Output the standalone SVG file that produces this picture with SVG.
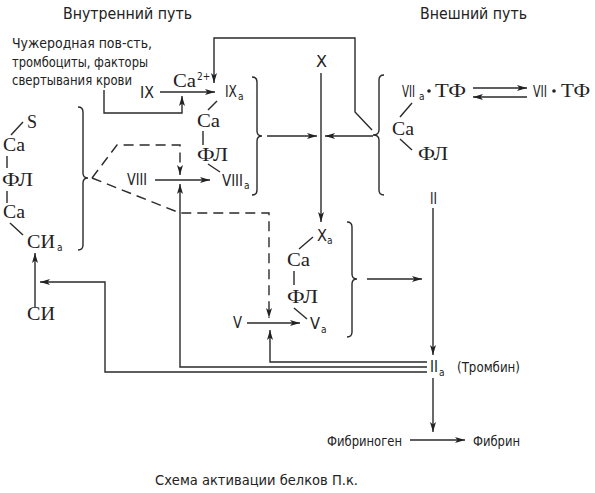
<svg xmlns="http://www.w3.org/2000/svg" width="595" height="493" viewBox="0 0 595 493">
<style>
.n{font-family:"Liberation Sans Narrow","DejaVu Sans Condensed","Liberation Sans",sans-serif;fill:#222;font-size:15px}
.t{font-size:14px}
.sub{font-family:"Liberation Sans Narrow","DejaVu Sans Condensed","Liberation Sans",sans-serif;fill:#222;font-size:10px}
.s{font-family:"Liberation Serif","DejaVu Serif",serif;fill:#222;font-size:18px}
.ln{stroke:#2a2a2a;stroke-width:1.4;fill:none}
.ar{stroke:#2a2a2a;stroke-width:1.4;fill:none;marker-end:url(#ah)}
.da{stroke-dasharray:10 6}
</style>
<defs>
<marker id="ah" viewBox="0 0 10 6" refX="10" refY="3" markerWidth="10" markerHeight="6" markerUnits="userSpaceOnUse" orient="auto"><path d="M0,0 L10,3 L0,6 L2.5,3 z" fill="#222"/></marker>
</defs>
<rect width="595" height="493" fill="#fff"/>

<g id="connectors">
<path class="ar" d="M160 92 H215"/>
<path class="ar" d="M104 90 V113 H182 V96"/>
<path class="ar" d="M372 130 L355 112 V38 H214 V83"/>
<path class="ar" d="M267 136 H317"/>
<path class="ar" d="M373 136 H325"/>
<path class="ar" d="M321 73 V222"/>
<path class="ar" d="M155 180 H210"/>
<path class="ar da" d="M92 178 L117 145 H180 V175"/>
<path class="ar da" d="M92 178 L180 213 H269 V318"/>
<path class="ar" d="M247 323 H300"/>
<path class="ar" d="M427 362 H270 V330"/>
<path class="ar" d="M427 367 H180 V184"/>
<path class="ar" d="M427 372 H105 V282 H40"/>
<path class="ar" d="M35 307 V253"/>
<path class="ar" d="M367 279 H422"/>
<path class="ar" d="M433 208 V355"/>
<path class="ar" d="M433 378 V432"/>
<path class="ar" d="M410 440 H465"/>
<path class="ar" d="M473 88 H527"/>
<path class="ar" d="M527 97 H473"/>
</g>

<g id="title-intrinsic"><text class="n" x="63" y="19" textLength="129" lengthAdjust="spacingAndGlyphs">Внутренний путь</text></g>
<g id="title-extrinsic"><text class="n" x="420" y="19" textLength="107" lengthAdjust="spacingAndGlyphs">Внешний путь</text></g>

<g id="surface">
<text class="n t" x="12" y="48" textLength="140" lengthAdjust="spacingAndGlyphs">Чужеродная пов-сть,</text>
<text class="n t" x="12" y="67" textLength="136" lengthAdjust="spacingAndGlyphs">тромбоциты, факторы</text>
<text class="n t" x="12" y="85" textLength="120" lengthAdjust="spacingAndGlyphs">свертывания крови</text>
</g>

<g id="IX"><text class="n" x="140" y="98" textLength="14" lengthAdjust="spacingAndGlyphs">IX</text></g>
<g id="Ca2"><text class="s" x="173" y="87" textLength="23" lengthAdjust="spacingAndGlyphs">Ca</text><text class="sub" x="197" y="80">2+</text></g>

<g id="IXa-complex">
<text class="n" x="225" y="97" textLength="12" lengthAdjust="spacingAndGlyphs">IX</text><text class="sub" x="238" y="100">a</text>
<path class="ln" d="M217 101 L208 110"/>
<text class="s" x="197" y="127" textLength="23" lengthAdjust="spacingAndGlyphs">Ca</text>
<path class="ln" d="M203 131 V145"/>
<text class="s" x="197" y="161" textLength="31" lengthAdjust="spacingAndGlyphs">ФЛ</text>
<path class="ln" d="M208 164 L220 172"/>
<text class="n" x="222" y="186" textLength="21" lengthAdjust="spacingAndGlyphs">VIII</text><text class="sub" x="244" y="189">a</text>
<path class="ln" d="M252 77 Q257 77 257 82 V131 Q257 136 262 136 Q257 136 257 141 V190 Q257 195 252 195"/>
</g>

<g id="VIII"><text class="n" x="127" y="185" textLength="20" lengthAdjust="spacingAndGlyphs">VIII</text></g>
<g id="X"><text class="n" x="316" y="67" textLength="11" lengthAdjust="spacingAndGlyphs">X</text></g>

<g id="Xa-complex">
<text class="n" x="317" y="241" textLength="10" lengthAdjust="spacingAndGlyphs">X</text><text class="sub" x="327" y="244">a</text>
<path class="ln" d="M313 237 L299 249"/>
<text class="s" x="287" y="266" textLength="23" lengthAdjust="spacingAndGlyphs">Ca</text>
<path class="ln" d="M294 271 V285"/>
<text class="s" x="287" y="303" textLength="31" lengthAdjust="spacingAndGlyphs">ФЛ</text>
<path class="ln" d="M294 308 L307 319"/>
<text class="n" x="310" y="329" textLength="10" lengthAdjust="spacingAndGlyphs">V</text><text class="sub" x="321" y="333">a</text>
<path class="ln" d="M347 222 Q352 222 352 227 V274 Q352 279 357 279 Q352 279 352 284 V332 Q352 337 347 337"/>
</g>

<g id="V"><text class="n" x="233" y="328" textLength="9" lengthAdjust="spacingAndGlyphs">V</text></g>

<g id="SIa-complex">
<text class="s" x="27" y="128">S</text>
<path class="ln" d="M23 122 L11 135"/>
<text class="s" x="3" y="151" textLength="22" lengthAdjust="spacingAndGlyphs">Ca</text>
<path class="ln" d="M7 156 V168"/>
<text class="s" x="2" y="186" textLength="31" lengthAdjust="spacingAndGlyphs">ФЛ</text>
<path class="ln" d="M7 191 V203"/>
<text class="s" x="3" y="218" textLength="22" lengthAdjust="spacingAndGlyphs">Ca</text>
<path class="ln" d="M10 223 L23 235"/>
<text class="s" x="27" y="248" textLength="28" lengthAdjust="spacingAndGlyphs">СИ</text><text class="sub" x="57" y="251">a</text>
<path class="ln" d="M78 107 Q83 107 83 112 V173 Q83 178 88 178 Q83 178 83 183 V245 Q83 250 78 250"/>
</g>

<g id="SI"><text class="s" x="27" y="320" textLength="28" lengthAdjust="spacingAndGlyphs">СИ</text></g>

<g id="VIIa-complex">
<text class="n" x="402" y="97" textLength="13" lengthAdjust="spacingAndGlyphs">VII</text><text class="sub" x="419" y="100">a</text>
<circle cx="429" cy="91" r="1.8" fill="#222"/>
<text class="s" x="435" y="97" textLength="31" lengthAdjust="spacingAndGlyphs">ТФ</text>
<path class="ln" d="M412 103 L400 117"/>
<text class="s" x="392" y="135" textLength="22" lengthAdjust="spacingAndGlyphs">Ca</text>
<path class="ln" d="M400 139 L412 150"/>
<text class="s" x="418" y="160" textLength="30" lengthAdjust="spacingAndGlyphs">ФЛ</text>
<path class="ln" d="M384 75 Q379 75 379 80 V130 Q379 135 373 135 Q379 135 379 140 V190 Q379 195 384 195"/>
</g>

<g id="VII"><text class="n" x="533" y="97" textLength="14" lengthAdjust="spacingAndGlyphs">VII</text><circle cx="554" cy="91" r="1.8" fill="#222"/><text class="s" x="561" y="97" textLength="29" lengthAdjust="spacingAndGlyphs">ТФ</text></g>

<g id="II"><text class="n" x="430" y="204" textLength="7" lengthAdjust="spacingAndGlyphs">II</text></g>
<g id="IIa"><text class="n" x="430" y="372" textLength="8" lengthAdjust="spacingAndGlyphs">II</text><text class="sub" x="439" y="376">a</text><text class="n t" x="457" y="372" textLength="63" lengthAdjust="spacingAndGlyphs">(Тромбин)</text></g>

<g id="fibrinogen"><text class="n t" x="327" y="446" textLength="75" lengthAdjust="spacingAndGlyphs">Фибриноген</text></g>
<g id="fibrin"><text class="n t" x="473" y="446" textLength="47" lengthAdjust="spacingAndGlyphs">Фибрин</text></g>

<g id="caption"><text class="n t" x="155" y="485" textLength="203" lengthAdjust="spacingAndGlyphs">Схема активации белков П.к.</text></g>
</svg>
